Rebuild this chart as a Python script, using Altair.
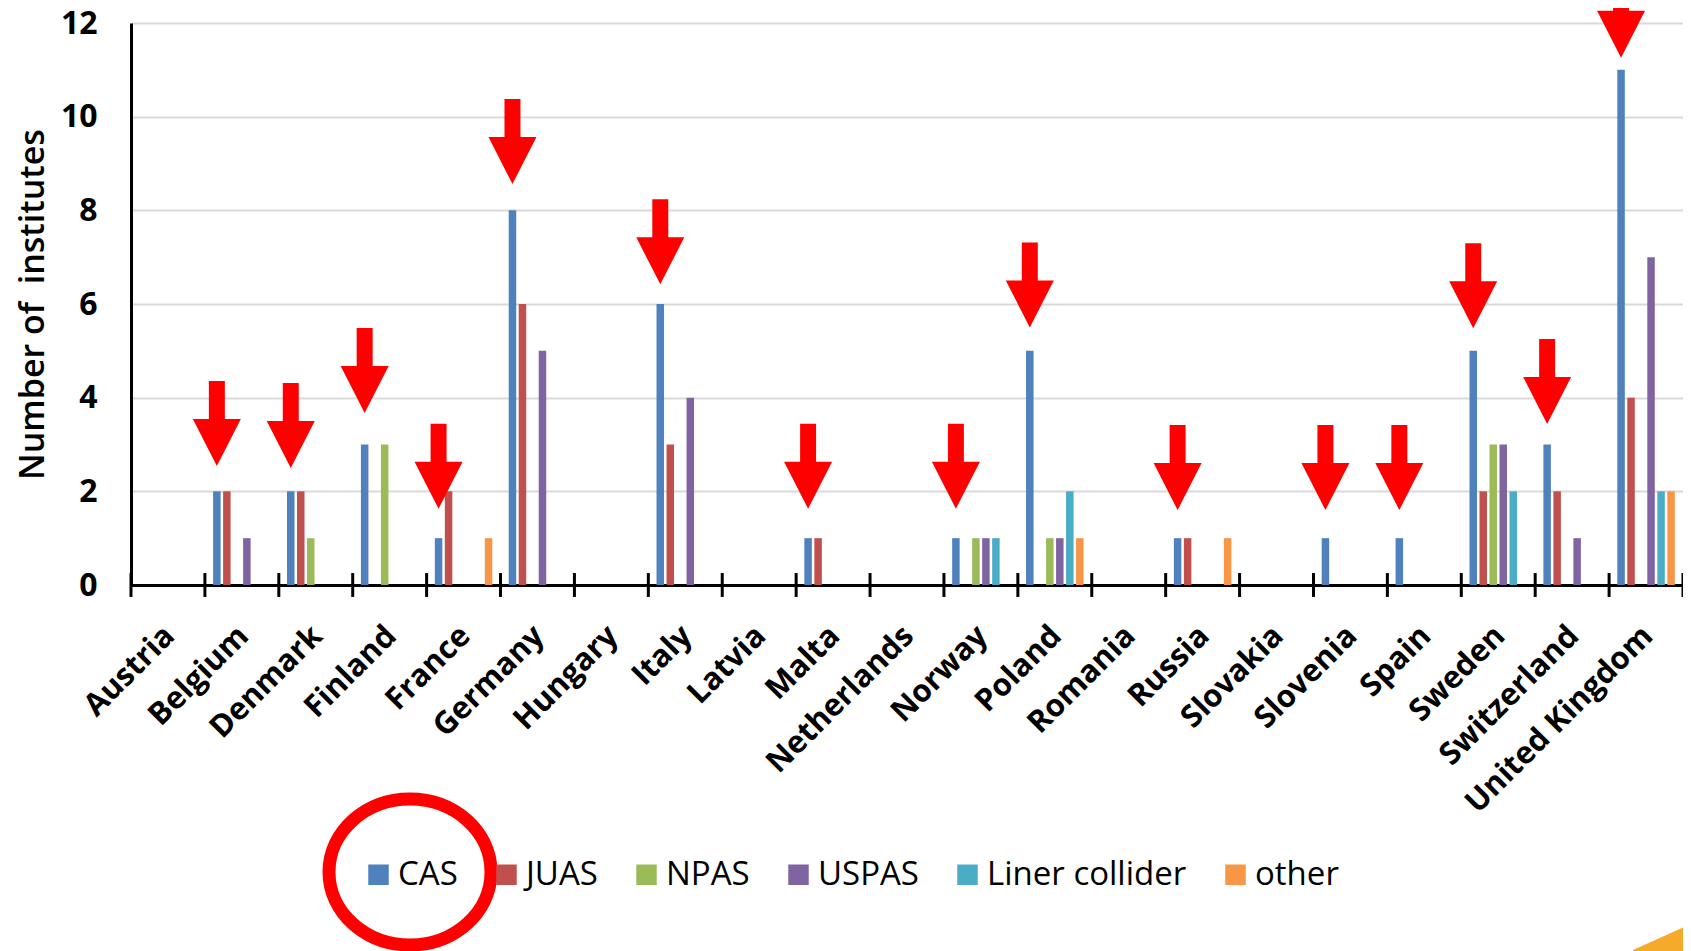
import altair as alt
import pandas as pd

# ---------------- data ----------------
countries = ["Austria", "Belgium", "Denmark", "Finland", "France", "Germany",
             "Hungary", "Italy", "Latvia", "Malta", "Netherlands", "Norway",
             "Poland", "Romania", "Russia", "Slovakia", "Slovenia", "Spain",
             "Sweden", "Switzerland", "United Kingdom"]
series = ["CAS", "JUAS", "NPAS", "USPAS", "Liner collider", "other"]
colors = ["#4F81BD", "#C0504D", "#9BBB59", "#8064A2", "#4BACC6", "#F79646"]

cas   = [0, 2, 2, 3, 1, 8, 0, 6, 0, 1, 0, 1, 5, 0, 1, 0, 1, 1, 5, 3, 11]
juas  = [0, 2, 2, 0, 2, 6, 0, 3, 0, 1, 0, 0, 0, 0, 1, 0, 0, 0, 2, 2, 4]
npas  = [0, 0, 1, 3, 0, 0, 0, 0, 0, 0, 0, 1, 1, 0, 0, 0, 0, 0, 3, 0, 0]
uspas = [0, 1, 0, 0, 0, 5, 0, 4, 0, 0, 0, 1, 1, 0, 0, 0, 0, 0, 3, 1, 7]
lc    = [0, 0, 0, 0, 0, 0, 0, 0, 0, 0, 0, 1, 2, 0, 0, 0, 0, 0, 2, 0, 2]
other = [0, 0, 0, 0, 1, 0, 0, 0, 0, 0, 0, 0, 1, 0, 1, 0, 0, 0, 0, 0, 2]

y_ticks = [0, 2, 4, 6, 8, 10, 12]

# red arrows (annotation): country they point at and the value of the tip
arrow_countries = ["Belgium", "Denmark", "Finland", "France", "Germany", "Italy",
                   "Malta", "Norway", "Poland", "Russia", "Slovenia", "Spain",
                   "Sweden", "Switzerland", "United Kingdom"]
arrow_tips = [2.54, 2.50, 3.67, 1.63, 8.56, 6.42, 1.63, 1.63, 5.50,
              1.60, 1.60, 1.60, 5.48, 3.44, 11.26]

# ---------------- tables ----------------
values_by_series = [cas, juas, npas, uspas, lc, other]
rows = []
for s, vals in zip(series, values_by_series):
    for c, v in zip(countries, vals):
        rows.append({"country": c, "series": s, "value": v})
df = pd.DataFrame(rows)
df = df[df["value"] > 0]

tick_df = pd.DataFrame({"country": countries})
arrow_df = pd.DataFrame({"country": arrow_countries, "tip": arrow_tips,
                         "series": ["CAS"] * len(arrow_countries)})

# ---------------- geometry / style ----------------
W, H = 1552, 562
FONT = "Open Sans"

xscale = alt.Scale(domain=countries, paddingInner=0, paddingOuter=0)
xoff = alt.Scale(domain=series, paddingInner=0.25, paddingOuter=0.82)
yscale = alt.Scale(domain=[0, 12], nice=False, zero=True)

ARROW = ("M 0 0 L -0.565 -1.106 L -0.188 -1.106 L -0.188 -2 "
         "L 0.188 -2 L 0.188 -1.106 L 0.565 -1.106 Z")
ELLIPSE = "M -1 0 A 1 0.9 0 1 1 1 0 A 1 0.9 0 1 1 -1 0 Z"
WEDGE = "M -50 7 L 10 -20 L 10 30 L -50 30 Z"

bars = alt.Chart(df).mark_bar().encode(
    x=alt.X("country:N", scale=xscale, sort=countries,
            axis=alt.Axis(title=None, domainColor="black", domainWidth=3,
                          ticks=False, grid=False, labelAngle=315,
                          labelAlign="right", labelBaseline="middle",
                          labelFont=FONT, labelFontWeight="bold",
                          labelFontSize=31, labelColor="black",
                          labelPadding=46, labelOffset=2, labelLimit=500,
                          labelOverlap=False)),
    xOffset=alt.XOffset("series:N", scale=xoff, sort=series),
    y=alt.Y("value:Q", scale=yscale,
            axis=alt.Axis(title="Number of\u00a0 institutes", values=y_ticks,
                          titleFont=FONT, titleFontSize=34, titleFontWeight=600,
                          titleColor="black", titlePadding=10,
                          labelFont=FONT, labelFontWeight="bold",
                          labelFontSize=32, labelColor="black", labelPadding=34,
                          ticks=False, domainColor="black", domainWidth=3,
                          grid=True, gridColor="#d9d9d9", gridWidth=2)),
    color=alt.Color("series:N", scale=alt.Scale(domain=series, range=colors),
                    legend=alt.Legend(title=None, orient="none", legendX=231,
                                      legendY=835, direction="horizontal",
                                      symbolType="square", symbolSize=420,
                                      symbolStrokeWidth=0, labelFont=FONT,
                                      labelFontSize=33, labelColor="black",
                                      labelOffset=3, columnPadding=32,
                                      labelLimit=500, padding=0)),
)

ticks = alt.Chart(tick_df).mark_rule(color="black", strokeWidth=3).encode(
    x=alt.X("country:N", scale=xscale, sort=countries, bandPosition=0),
    y=alt.YDatum(-0.255, scale=yscale),
    y2=alt.Y2Datum(0.255),
)
end_tick = alt.Chart(tick_df).mark_rule(color="black", strokeWidth=3).encode(
    x=alt.X("country:N", scale=xscale, sort=countries, bandPosition=1),
    y=alt.YDatum(-0.255, scale=yscale),
    y2=alt.Y2Datum(0.255),
).transform_filter(alt.datum.country == countries[-1])

arrows = alt.Chart(arrow_df).mark_point(
    shape=ARROW, size=7225, filled=True, color="#FF0000", opacity=1,
    strokeWidth=0).encode(
    x=alt.X("country:N", scale=xscale, sort=countries),
    xOffset=alt.XOffset("series:N", scale=xoff, sort=series),
    y=alt.Y("tip:Q", scale=yscale),
)

# slide decorations: red ring round the CAS legend entry, orange corner wedge
ellipse = alt.Chart(pd.DataFrame({"k": [0]})).mark_point(
    shape=ELLIPSE, size=26244, filled=False, stroke="#FF0000",
    strokeWidth=13, opacity=1).encode(
    x=alt.value(279), y=alt.value(849))

wedge = alt.Chart(pd.DataFrame({"k": [0]})).mark_point(
    shape=WEDGE, size=4, filled=True, color="#F6AA2A", opacity=1,
    strokeWidth=0).encode(
    x=alt.value(1552), y=alt.value(920))

chart = alt.layer(bars, ticks, end_tick, arrows, ellipse, wedge).properties(
    width=W, height=H,
    autosize=alt.AutoSizeParams(type="none"),
    padding={"left": 123, "top": 15, "right": 0, "bottom": 366},
).configure_view(strokeWidth=0).configure(background="white")

chart.save("out.html", embed_options={"renderer": "svg", "actions": False})
